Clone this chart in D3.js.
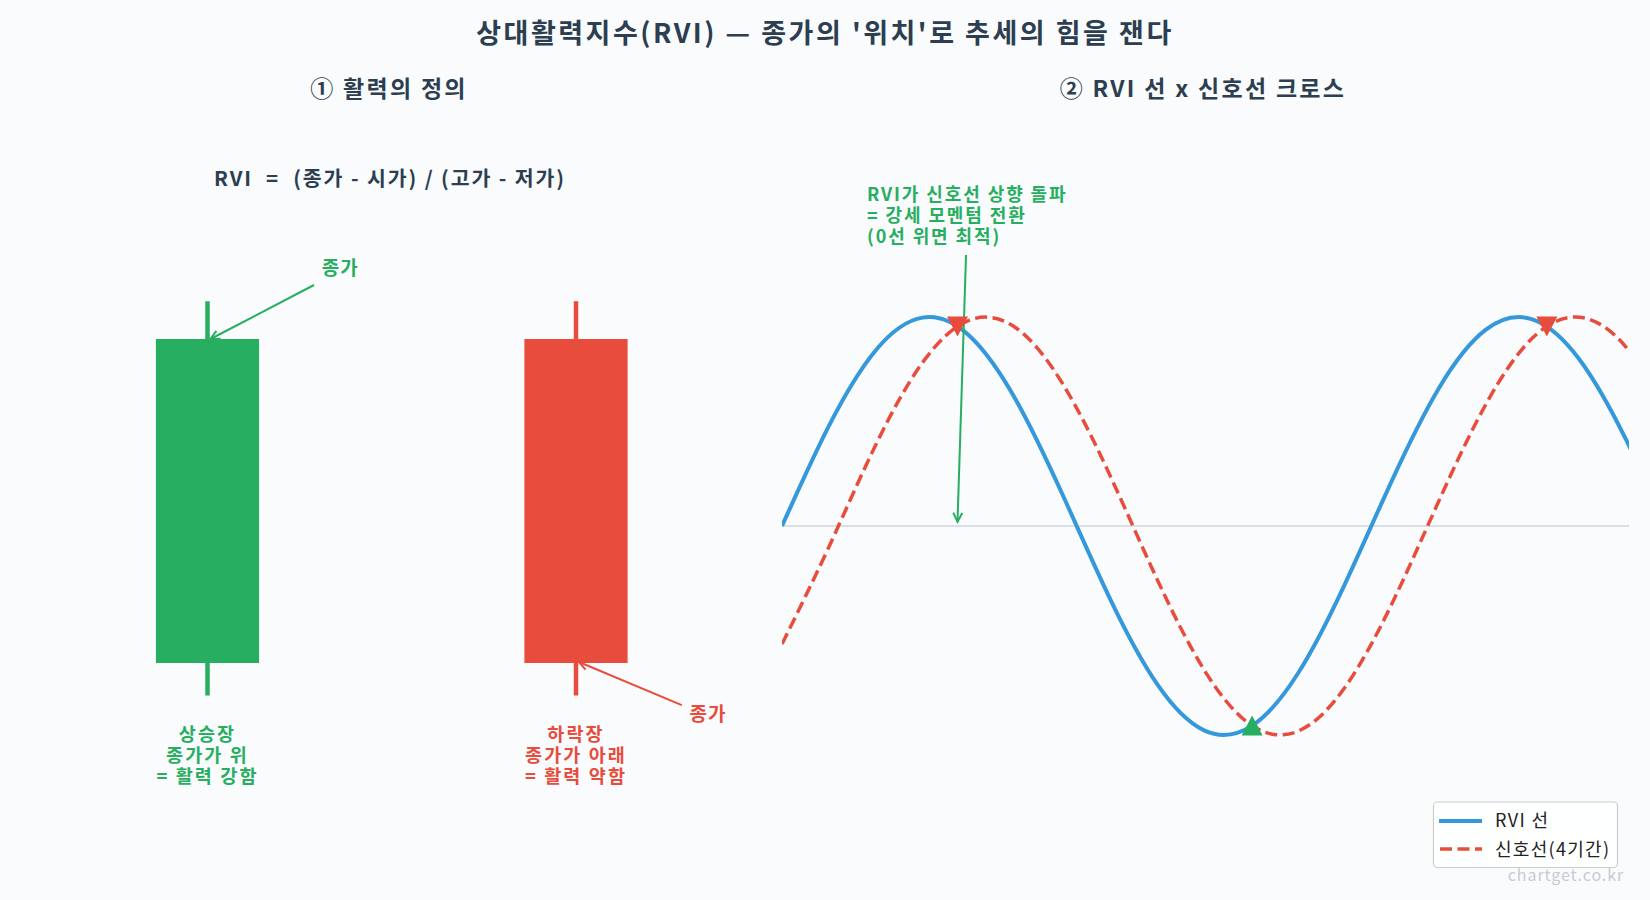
<!DOCTYPE html>
<html>
<head>
<meta charset="utf-8">
<script src="https://cdn.jsdelivr.net/npm/d3@7"></script>
<style>
  html, body { margin: 0; padding: 0; background: #f9fbfd; }
  svg { display: block; }
  text { font-family: "Noto Sans CJK KR", "Noto Sans", sans-serif; }
</style>
</head>
<body>
<svg id="chart" width="1650" height="900"></svg>
<script>
// ---------- data ----------
const titleText = "상대활력지수(RVI) — 종가의 '위치'로 추세의 힘을 잰다";
const panelTitles = ["① 활력의 정의", "② RVI 선 x 신호선 크로스"];
const formulaText = "RVI  =  (종가 - 시가) / (고가 - 저가)";

// left panel: two illustrative candles
const candleX     = [1, 2];
const candleOpen  = [2, 8];
const candleClose = [8, 2];
const candleHigh  = [8.7, 8.7];
const candleLow   = [1.4, 1.4];
const candleColor = ["#27ae60", "#e74c3c"];
const candleLabels = [["상승장", "종가가 위", "= 활력 강함"], ["하락장", "종가가 아래", "= 활력 약함"]];
const closeLabel = "종가";
const closeTextPos  = [[1.36, 9.3], [2.358, 1.04]];
const closeArrowFrom = [[1.289, 9.0], [2.287, 1.22]];

// right panel: RVI line and signal line
const t      = [0, 0.5, 1.0, 1.5, 2.0, 2.5, 3.0, 3.5, 4.0, 4.5, 5.0, 5.5, 6.0, 6.5, 7.0, 7.5, 8.0, 8.5, 9.0, 9.5];
const rvi    = [0, 0.479, 0.841, 0.997, 0.909, 0.598, 0.141, -0.351, -0.757, -0.978, -0.959, -0.706, -0.279, 0.215, 0.657, 0.938, 0.989, 0.798, 0.412, -0.075];
const signal = [-0.565, -0.100, 0.389, 0.783, 0.985, 0.946, 0.675, 0.239, -0.256, -0.688, -0.952, -0.982, -0.773, -0.374, 0.117, 0.579, 0.899, 0.999, 0.855, 0.501];
const xView  = [0, 9.03];
const crossT = [1.871, 5.012, 8.154];
const crossV = [0.955, -0.955, 0.955];
const crossType = ["down", "up", "down"];
const annotLines = ["RVI가 신호선 상향 돌파", "= 강세 모멘텀 전환", "(0선 위면 최적)"];
const annotText = [0.906, 1.584];
const annotFrom = [1.962, 1.297];
const annotTo   = [1.871, 0.02];
const legendLabels = ["RVI 선", "신호선(4기간)"];
const watermark = "chartget.co.kr";

// ---------- styles ----------
const C = { title: "#2c3e50", green: "#27ae60", red: "#e74c3c", blue: "#3498db", zero: "#cfd4dc" };

const svg = d3.select("#chart");
svg.append("rect").attr("width", 1650).attr("height", 900).attr("fill", "#f9fbfd");

const defs = svg.append("defs");
function arrowMarker(id, color) {
  defs.append("marker")
    .attr("id", id).attr("markerUnits", "userSpaceOnUse")
    .attr("viewBox", "-12 -7 14 14").attr("refX", 0).attr("refY", 0)
    .attr("markerWidth", 14).attr("markerHeight", 14).attr("orient", "auto")
    .append("path").attr("d", "M-9,-4.5 L0,0 L-9,4.5")
    .attr("fill", "none").attr("stroke", color).attr("stroke-width", 2);
}
arrowMarker("arG", C.green);
arrowMarker("arR", C.red);

// multi-line text helper (one text element, tspans)
function multiText(g, x, y, lines, lh, attrs) {
  const tx = g.append("text").attr("x", x).attr("y", y).attr("xml:space", "preserve");
  Object.entries(attrs).forEach(([k, v]) => tx.attr(k, v));
  lines.forEach((s, j) => {
    tx.append("tspan").attr("x", x).attr("y", y + j * lh).attr("dy", "0.35em").text(s);
  });
  return tx;
}

// titles
svg.append("text").attr("x", 825).attr("y", 34).attr("dy", "0.35em")
  .attr("text-anchor", "middle").attr("font-size", 27).attr("font-weight", 700)
  .attr("letter-spacing", 2.5).attr("fill", C.title).text(titleText);
[389, 1203].forEach((x, i) => {
  svg.append("text").attr("x", x).attr("y", 89).attr("dy", "0.35em")
    .attr("text-anchor", "middle").attr("font-size", 23).attr("font-weight", 700)
    .attr("letter-spacing", 2.3).attr("xml:space", "preserve")
    .attr("fill", C.title).text(panelTitles[i]);
});

// ---------- left panel ----------
const xL = d3.scaleLinear().domain([1, 2]).range([207.5, 576]);
const yL = d3.scaleLinear().domain([0, 10]).range([771, 231]);
const bodyW = 0.28;
const gL = svg.append("g");

gL.append("text").attr("x", 390).attr("y", 179).attr("dy", "0.35em")
  .attr("text-anchor", "middle").attr("font-size", 20.5).attr("font-weight", 700)
  .attr("letter-spacing", 1.9)
  .attr("fill", C.title).attr("xml:space", "preserve").text(formulaText);

candleX.forEach((cx, i) => {
  gL.append("line").attr("x1", xL(cx)).attr("x2", xL(cx))
    .attr("y1", yL(candleHigh[i])).attr("y2", yL(candleLow[i]))
    .attr("stroke", candleColor[i]).attr("stroke-width", 4.5);
  const top = Math.max(candleOpen[i], candleClose[i]);
  const bot = Math.min(candleOpen[i], candleClose[i]);
  gL.append("rect").attr("x", xL(cx - bodyW / 2)).attr("width", xL(cx + bodyW / 2) - xL(cx - bodyW / 2))
    .attr("y", yL(top)).attr("height", yL(bot) - yL(top)).attr("fill", candleColor[i]);
  multiText(gL, xL(cx), yL(0.68), candleLabels[i], 21, {
    "text-anchor": "middle", "font-size": 18.5, "font-weight": 700,
    "letter-spacing": 2.1, "fill": candleColor[i]
  });
  gL.append("line")
    .attr("x1", xL(closeArrowFrom[i][0])).attr("y1", yL(closeArrowFrom[i][1]))
    .attr("x2", xL(cx) + 3).attr("y2", yL(candleClose[i]) + (i === 0 ? 0 : -1))
    .attr("stroke", candleColor[i]).attr("stroke-width", 2)
    .attr("marker-end", i === 0 ? "url(#arG)" : "url(#arR)");
  gL.append("text").attr("x", xL(closeTextPos[i][0])).attr("y", yL(closeTextPos[i][1])).attr("dy", "0.35em")
    .attr("text-anchor", "middle").attr("font-size", 19).attr("font-weight", 700)
    .attr("letter-spacing", 1).attr("fill", candleColor[i]).text(closeLabel);
});

// ---------- right panel ----------
const xR = d3.scaleLinear().domain(xView).range([782, 1629]);
const yR = d3.scaleLinear().domain([-1, 1]).range([735, 317]);
const gR = svg.append("g");

defs.append("clipPath").attr("id", "clipR")
  .append("rect").attr("x", xR(xView[0])).attr("y", 250).attr("width", xR(xView[1]) - xR(xView[0])).attr("height", 550);

gR.append("line").attr("x1", xR(xView[0])).attr("x2", xR(xView[1]))
  .attr("y1", yR(0)).attr("y2", yR(0)).attr("stroke", C.zero).attr("stroke-width", 1.5);

const line = d3.line().x(d => xR(d[0])).y(d => yR(d[1])).curve(d3.curveNatural);
const gLines = gR.append("g").attr("clip-path", "url(#clipR)");
gLines.append("path").datum(t.map((v, i) => [v, signal[i]])).attr("d", line)
  .attr("fill", "none").attr("stroke", C.red).attr("stroke-width", 3.5).attr("stroke-dasharray", "12,5.5");
gLines.append("path").datum(t.map((v, i) => [v, rvi[i]])).attr("d", line)
  .attr("fill", "none").attr("stroke", C.blue).attr("stroke-width", 4);

multiText(gR, xR(annotText[0]), yR(annotText[1]), annotLines, 20.8, {
  "font-size": 18, "font-weight": 700, "letter-spacing": 1.9, "fill": C.green
});
gR.append("line").attr("x1", xR(annotFrom[0])).attr("y1", yR(annotFrom[1]))
  .attr("x2", xR(annotTo[0])).attr("y2", yR(annotTo[1]))
  .attr("stroke", C.green).attr("stroke-width", 2).attr("marker-end", "url(#arG)");

crossT.forEach((ct, i) => {
  const x = xR(ct), y = yR(crossV[i]);
  const w = 10.5, h = 10;
  const d = crossType[i] === "up"
    ? `M${x},${y - h} L${x + w},${y + h} L${x - w},${y + h} Z`
    : `M${x},${y + h} L${x + w},${y - h} L${x - w},${y - h} Z`;
  gR.append("path").attr("d", d).attr("fill", crossType[i] === "up" ? C.green : C.red);
});

// legend
const lg = svg.append("g");
lg.append("rect").attr("x", 1433.5).attr("y", 802).attr("width", 184).attr("height", 65.5)
  .attr("rx", 4).attr("fill", "#ffffff").attr("fill-opacity", 0.85)
  .attr("stroke", "#cccccc").attr("stroke-width", 1.2);
lg.append("line").attr("x1", 1439).attr("x2", 1482).attr("y1", 821).attr("y2", 821)
  .attr("stroke", C.blue).attr("stroke-width", 4);
lg.append("line").attr("x1", 1440).attr("x2", 1482).attr("y1", 849).attr("y2", 849)
  .attr("stroke", C.red).attr("stroke-width", 3.5).attr("stroke-dasharray", "12,5.5");
legendLabels.forEach((s, i) => {
  lg.append("text").attr("x", 1495).attr("y", 821 + i * 28.5).attr("dy", "0.35em")
    .attr("font-size", 18).attr("letter-spacing", 1.3).attr("fill", "#222222").text(s);
});

svg.append("text").attr("x", 1624).attr("y", 875).attr("dy", "0.35em")
  .attr("text-anchor", "end").attr("font-size", 16).attr("fill", "#c6cbd4")
  .attr("letter-spacing", 0.9).text(watermark);
</script>
</body>
</html>
